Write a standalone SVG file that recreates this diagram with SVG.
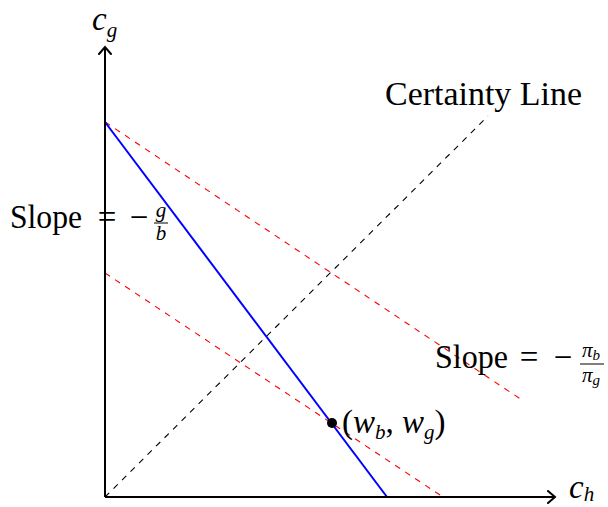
<svg xmlns="http://www.w3.org/2000/svg" width="608" height="507" viewBox="0 0 608 507">
<style>
text{font-family:"Liberation Serif","DejaVu Serif",serif;fill:#000}
.big{font-size:33px}
.mid{text-anchor:middle}
.it{font-style:italic}
.small{font-size:21px}
.sub{font-size:15px}
.axis{stroke:#000;stroke-width:2;fill:none}
.red{stroke:#ff0000;stroke-width:1.1;stroke-dasharray:6 6;fill:none}
.cert{stroke:#000;stroke-width:1.1;stroke-dasharray:6 6;fill:none}
.budget{stroke:#0000ff;stroke-width:2;fill:none}
.bar{stroke:#000;stroke-width:1}
</style>
<defs>
<marker id="arr" markerWidth="12" markerHeight="14" refX="9" refY="7" orient="auto" markerUnits="userSpaceOnUse">
<path d="M2,1 L9,7 L2,13" fill="none" stroke="#000" stroke-width="2" stroke-linecap="round"/>
</marker>
</defs>
<g id="connectors">
<line class="cert" x1="105" y1="497" x2="488" y2="116"/>
<line class="red" x1="105" y1="122" x2="522" y2="400"/>
<line class="red" x1="105" y1="273" x2="443" y2="497"/>
<line class="budget" x1="105" y1="122" x2="387" y2="497"/>
<line class="axis" x1="105" y1="497" x2="105" y2="47" marker-end="url(#arr)"/>
<line class="axis" x1="105" y1="497" x2="555" y2="497" marker-end="url(#arr)"/>
</g>
<g id="axis-labels">
<text x="92" y="30" class="big it">c<tspan class="small" dy="7">g</tspan></text>
<text x="569" y="498" class="big it">c<tspan class="small" dy="3">h</tspan></text>
</g>
<g id="certainty-label">
<text x="385" y="105" class="big" textLength="197" lengthAdjust="spacingAndGlyphs">Certainty Line</text>
</g>
<g id="slope-left">
<text x="10" y="228" class="big" textLength="72" lengthAdjust="spacingAndGlyphs">Slope</text>
<text x="107" y="228" class="big mid">=</text>
<text x="139" y="228" class="big mid">−</text>
<text x="161" y="217" class="small it mid">g</text>
<line class="bar" x1="154" y1="223" x2="168" y2="223"/>
<text x="161" y="240" class="small it mid">b</text>
</g>
<g id="slope-right">
<text x="435" y="368" class="big" textLength="73" lengthAdjust="spacingAndGlyphs">Slope</text>
<text x="529" y="368" class="big mid">=</text>
<text x="563" y="368" class="big mid">−</text>
<text x="582" y="357" class="small it">π<tspan class="sub" dy="3">b</tspan></text>
<line class="bar" x1="580" y1="364" x2="604" y2="364"/>
<text x="582" y="382" class="small it">π<tspan class="sub" dy="3">g</tspan></text>
</g>
<g id="endowment">
<circle cx="332" cy="423" r="5" fill="#000"/>
<text x="342" y="433" class="big">(<tspan class="it">w</tspan><tspan class="small it" dy="6">b</tspan><tspan dy="-6">, </tspan><tspan class="it">w</tspan><tspan class="small it" dy="6">g</tspan><tspan dy="-6">)</tspan></text>
</g>
</svg>
